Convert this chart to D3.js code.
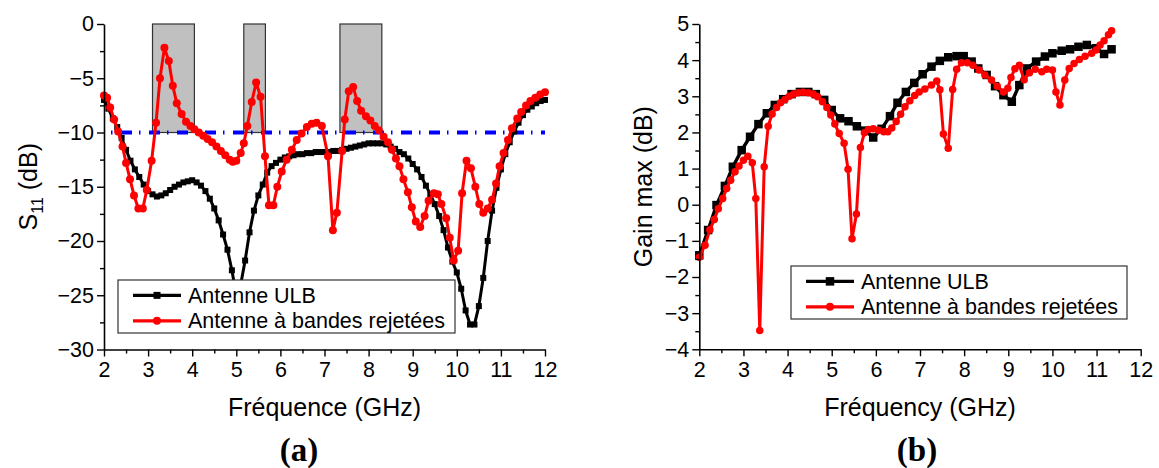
<!DOCTYPE html>
<html>
<head>
<meta charset="utf-8">
<script src="https://cdn.jsdelivr.net/npm/d3@7"></script>
<style>
  html, body { margin: 0; padding: 0; background: #fff; }
  svg { display: block; }
  text { font-family: "Liberation Sans", Arial, sans-serif; fill: #000; }
</style>
</head>
<body>
<svg id="fig" width="1159" height="468"></svg>
<script>
// ---- (a) S11 : reference antenna sampled every 0.1 GHz from 2 to 12 GHz ----
const s11FreqUlb = d3.range(0, 101).map(i => +(2 + i * 0.1).toFixed(1));
const s11Ulb = [
  -7.0, -7.8, -8.7, -9.5, -10.5, -11.6, -12.6, -13.4, -14.1, -14.8,
  -15.4, -15.7, -15.9, -15.8, -15.6, -15.3, -15.0, -14.8, -14.6, -14.5,
  -14.4, -14.6, -14.9, -15.4, -16.1, -17.0, -18.1, -19.4, -20.8, -22.7,
  -25.0, -24.0, -21.8, -19.2, -17.2, -15.8, -14.8, -13.7, -13.1, -12.8,
  -12.5, -12.3, -12.2, -12.1, -12.0, -12.0, -11.9, -11.9, -11.8, -11.8,
  -11.8, -11.8, -11.7, -11.7, -11.6, -11.5, -11.4, -11.3, -11.2, -11.1,
  -11.0, -11.0, -11.0, -11.0, -11.1, -11.3, -11.5, -11.8, -12.0, -12.4,
  -12.9, -13.4, -14.1, -14.9, -15.7, -16.6, -17.7, -19.0, -20.6, -21.9,
  -22.9, -24.4, -26.4, -27.7, -27.7, -26.0, -23.4, -20.0, -17.2, -15.1,
  -13.4, -12.0, -10.9, -9.9, -9.1, -8.4, -7.9, -7.6, -7.3, -7.1, -7.0
];

// ---- (a) S11 : band-notched antenna ----
const s11FreqNotch = [
  2.00, 2.07, 2.14, 2.23, 2.32, 2.42, 2.50, 2.59, 2.68, 2.78, 2.88, 2.97,
  3.08, 3.18, 3.27, 3.37, 3.47, 3.56, 3.65, 3.76, 3.86, 3.96, 4.05, 4.15,
  4.25, 4.35, 4.45, 4.55, 4.65, 4.75, 4.85, 4.92, 5.00, 5.10, 5.17, 5.25,
  5.35, 5.45, 5.55, 5.65, 5.74, 5.84, 5.93, 6.03, 6.14, 6.26, 6.37, 6.48,
  6.60, 6.71, 6.82, 6.94, 7.08, 7.19, 7.28, 7.40, 7.46, 7.55, 7.65, 7.74,
  7.83, 7.94, 8.04, 8.14, 8.23, 8.34, 8.44, 8.53, 8.62, 8.70, 8.79, 8.89,
  8.98, 9.07, 9.17, 9.27, 9.36, 9.48, 9.57, 9.65, 9.76, 9.84, 9.93, 10.03,
  10.12, 10.22, 10.32, 10.42, 10.51, 10.60, 10.70, 10.80, 10.89, 10.97, 11.06, 11.16,
  11.25, 11.37, 11.46, 11.57, 11.67, 11.78, 11.89, 12.00
];
const s11Notch = [
  -6.6, -6.8, -7.7, -8.8, -9.9, -11.3, -12.8, -14.3, -15.8, -17.0, -17.0, -15.3,
  -12.6, -9.1, -5.0, -2.2, -3.4, -5.7, -7.3, -8.3, -9.0, -9.4, -9.7, -10.0,
  -10.3, -10.6, -10.9, -11.3, -11.7, -12.1, -12.5, -12.7, -12.6, -11.9, -11.0, -9.4,
  -7.2, -5.4, -6.7, -12.2, -16.7, -16.7, -15.0, -13.6, -12.5, -11.6, -10.7, -10.1,
  -9.5, -9.2, -9.1, -9.4, -12.2, -19.0, -17.4, -11.7, -8.8, -6.2, -5.8, -7.1,
  -8.0, -8.5, -8.9, -9.4, -9.8, -10.4, -10.9, -11.6, -12.4, -13.1, -14.3, -15.5,
  -16.9, -18.2, -18.7, -17.7, -16.3, -15.6, -15.7, -16.6, -17.9, -19.7, -21.8, -20.9,
  -15.6, -12.6, -13.3, -15.0, -16.6, -17.4, -17.0, -16.2, -14.7, -13.1, -11.9, -10.7,
  -9.6, -8.7, -8.1, -7.5, -7.1, -6.8, -6.5, -6.3
];

// rejected bands (GHz) shaded between 0 and -10 dB
const rejectBandStart = [3.10, 5.17, 7.35];
const rejectBandEnd   = [4.05, 5.66, 8.30];
const s11Threshold = -10;

// ---- (b) maximum gain ----
const gainFreqUlb = [
  2.00, 2.20, 2.39, 2.58, 2.76, 2.96, 3.15, 3.34, 3.53, 3.71, 3.90, 4.09,
  4.28, 4.47, 4.64, 4.83, 5.00, 5.19, 5.38, 5.57, 5.76, 5.94, 6.13, 6.32,
  6.49, 6.68, 6.87, 7.06, 7.26, 7.45, 7.64, 7.83, 7.99, 8.17, 8.32, 8.51,
  8.70, 8.89, 9.08, 9.25, 9.42, 9.63, 9.83, 10.00, 10.21, 10.40, 10.59, 10.78,
  10.99, 11.17, 11.34
];
const gainUlb = [
  -1.40, -0.70, -0.01, 0.52, 1.05, 1.51, 1.88, 2.23, 2.53, 2.76, 2.92, 3.06,
  3.12, 3.12, 3.06, 2.90, 2.62, 2.39, 2.31, 2.17, 2.05, 1.86, 2.10, 2.45,
  2.82, 3.12, 3.37, 3.61, 3.82, 3.98, 4.08, 4.11, 4.11, 3.96, 3.77, 3.59,
  3.28, 3.03, 2.85, 3.31, 3.77, 3.96, 4.10, 4.19, 4.26, 4.30, 4.37, 4.42,
  4.33, 4.17, 4.30
];
const gainFreqNotch = [
  2.00, 2.13, 2.24, 2.34, 2.43, 2.53, 2.62, 2.71, 2.81, 2.90, 3.00, 3.10,
  3.20, 3.28, 3.37, 3.47, 3.56, 3.65, 3.75, 3.84, 3.94, 4.04, 4.14, 4.24,
  4.35, 4.47, 4.58, 4.68, 4.79, 4.89, 4.98, 5.07, 5.17, 5.28, 5.37, 5.46,
  5.56, 5.65, 5.74, 5.83, 5.94, 6.06, 6.18, 6.27, 6.36, 6.46, 6.56, 6.66,
  6.77, 6.88, 6.98, 7.11, 7.26, 7.38, 7.45, 7.53, 7.64, 7.74, 7.83, 7.94,
  8.07, 8.20, 8.34, 8.47, 8.62, 8.75, 8.89, 8.99, 9.06, 9.15, 9.25, 9.36,
  9.48, 9.61, 9.76, 9.87, 10.00, 10.08, 10.17, 10.28, 10.38, 10.49, 10.61, 10.74,
  10.89, 10.99, 11.08, 11.17, 11.27, 11.34
];
const gainNotch = [
  -1.45, -1.12, -0.69, -0.41, -0.11, 0.17, 0.45, 0.68, 0.91, 1.07, 1.23, 1.34,
  1.16, 0.17, -3.48, 1.05, 2.17, 2.51, 2.69, 2.82, 2.91, 3.00, 3.06, 3.10,
  3.11, 3.10, 3.06, 2.99, 2.85, 2.69, 2.48, 2.23, 1.97, 1.70, 0.98, -0.94,
  -0.26, 1.58, 1.99, 2.08, 2.10, 2.06, 2.02, 2.02, 2.12, 2.30, 2.50, 2.71,
  2.88, 3.02, 3.12, 3.20, 3.31, 3.42, 3.18, 1.96, 1.56, 3.19, 3.75, 3.93,
  3.93, 3.86, 3.73, 3.59, 3.45, 3.28, 3.12, 3.22, 3.52, 3.76, 3.86, 3.46,
  3.65, 3.75, 3.68, 3.75, 3.73, 3.12, 2.76, 3.45, 3.77, 3.91, 4.02, 4.11,
  4.19, 4.28, 4.42, 4.54, 4.70, 4.81
];

const legendLabels = ["Antenne ULB", "Antenne à bandes rejetées"];
const xTicks = [2, 3, 4, 5, 6, 7, 8, 9, 10, 11, 12];
const s11Ticks = [0, -5, -10, -15, -20, -25, -30];
const gainTicks = [5, 4, 3, 2, 1, 0, -1, -2, -3, -4];

const svg = d3.select("#fig");
const ulbColor = "#000000";
const notchColor = "#ff0000";

function drawAxes(g, x, y, yTicks, yMinor, xTitle, yTitleFn) {
  const xMinor = d3.range(2.5, 12, 1);
  const yBase = y.range()[0];
  const xBase = x.range()[0];

  const gx = g.append("g").attr("transform", `translate(0,${yBase})`);
  gx.call(d3.axisBottom(x).tickValues(xTicks).tickFormat(d3.format("d"))
      .tickSize(7).tickSizeOuter(0).tickPadding(5));
  gx.append("g").call(d3.axisBottom(x).tickValues(xMinor).tickFormat("")
      .tickSize(4).tickSizeOuter(0)).select(".domain").remove();

  const gy = g.append("g").attr("transform", `translate(${xBase},0)`);
  gy.call(d3.axisLeft(y).tickValues(yTicks).tickFormat(d3.format("d"))
      .tickSize(7).tickSizeOuter(0).tickPadding(3));
  gy.append("g").call(d3.axisLeft(y).tickValues(yMinor).tickFormat("")
      .tickSize(4).tickSizeOuter(0)).select(".domain").remove();

  g.selectAll(".domain").attr("stroke", "#000").attr("stroke-width", 1.6);
  g.selectAll(".tick line").attr("stroke", "#000").attr("stroke-width", 1.4);
  g.selectAll(".tick text")
    .style("font-family", '"Liberation Sans", Arial, sans-serif')
    .style("font-size", "21.5px").attr("fill", "#000");

  g.append("text")
    .attr("x", (x.range()[0] + x.range()[1]) / 2)
    .attr("y", 416)
    .attr("text-anchor", "middle")
    .style("font-size", "25px")
    .text(xTitle);
  yTitleFn(g);
}

function drawSeries(g, x, y, xs, ys, color, marker, size, lw) {
  const pts = xs.map((f, i) => [f, ys[i]]);
  g.append("path")
    .datum(pts)
    .attr("fill", "none")
    .attr("stroke", color)
    .attr("stroke-width", lw)
    .attr("stroke-linejoin", "round")
    .attr("d", d3.line().x(d => x(d[0])).y(d => y(d[1])));
  if (marker === "square") {
    g.append("g").selectAll("rect").data(pts).join("rect")
      .attr("x", d => x(d[0]) - size / 2)
      .attr("y", d => y(d[1]) - size / 2)
      .attr("width", size).attr("height", size)
      .attr("fill", color);
  } else {
    g.append("g").selectAll("circle").data(pts).join("circle")
      .attr("cx", d => x(d[0])).attr("cy", d => y(d[1]))
      .attr("r", size / 2).attr("fill", color);
  }
}

function drawLegend(g, x0, y0, w, h, sq, circ) {
  const lg = g.append("g").attr("transform", `translate(${x0},${y0})`);
  lg.append("rect").attr("width", w).attr("height", h)
    .attr("fill", "#fff").attr("stroke", "#333").attr("stroke-width", 1.2);
  const rows = [
    { color: ulbColor, marker: "square", y: h * 0.29 },
    { color: notchColor, marker: "circle", y: h * 0.77 }
  ];
  rows.forEach((r, i) => {
    lg.append("line").attr("x1", 15).attr("x2", 63)
      .attr("y1", r.y).attr("y2", r.y)
      .attr("stroke", r.color).attr("stroke-width", 3.2);
    if (r.marker === "square") {
      lg.append("rect").attr("x", 39 - sq / 2).attr("y", r.y - sq / 2)
        .attr("width", sq).attr("height", sq).attr("fill", r.color);
    } else {
      lg.append("circle").attr("cx", 39).attr("cy", r.y).attr("r", circ)
        .attr("fill", r.color);
    }
    lg.append("text").attr("x", 70).attr("y", r.y + 7.5)
      .style("font-size", "21.5px").text(legendLabels[i]);
  });
}

// ===================== panel (a) =====================
const xa = d3.scaleLinear().domain([2, 12]).range([104, 545]);
const ya = d3.scaleLinear().domain([-30, 0]).range([349.5, 24]);
const ga = svg.append("g");

// shaded rejected bands
ga.append("g").selectAll("rect").data(rejectBandStart).join("rect")
  .attr("x", (d) => xa(d))
  .attr("y", ya(0))
  .attr("width", (d, i) => xa(rejectBandEnd[i]) - xa(d))
  .attr("height", ya(s11Threshold) - ya(0))
  .attr("fill", "#c0c0c0")
  .attr("stroke", "#333")
  .attr("stroke-width", 1.2);

// -10 dB threshold (dash-dot)
ga.append("line")
  .attr("x1", xa(2)).attr("x2", xa(12))
  .attr("y1", ya(s11Threshold)).attr("y2", ya(s11Threshold))
  .attr("stroke", "#0000ff").attr("stroke-width", 4)
  .attr("stroke-dasharray", "11,7,1.5,8.5")
  .attr("stroke-dashoffset", -17);

drawSeries(ga, xa, ya, s11FreqUlb, s11Ulb, ulbColor, "square", 6, 3);
drawSeries(ga, xa, ya, s11FreqNotch, s11Notch, notchColor, "circle", 8, 3);

drawLegend(ga, 118, 280, 337, 53, 7, 4);

drawAxes(ga, xa, ya, s11Ticks, d3.range(-27.5, 0, 5), "Fréquence (GHz)", g => {
  const t = g.append("text")
    .attr("transform", `translate(37,${(24 + 349.5) / 2}) rotate(-90)`)
    .attr("text-anchor", "middle")
    .style("font-size", "25px");
  t.append("tspan").text("S");
  t.append("tspan").attr("dy", 6).style("font-size", "16px").text("11");
  t.append("tspan").attr("dy", -6).text(" (dB)");
});

svg.append("text")
  .attr("x", 299).attr("y", 461)
  .attr("text-anchor", "middle")
  .style("font-family", '"Liberation Serif", "Times New Roman", serif')
  .style("font-weight", "bold")
  .style("font-size", "33px")
  .text("(a)");

// ===================== panel (b) =====================
const xb = d3.scaleLinear().domain([2, 12]).range([699.3, 1140.7]);
const yb = d3.scaleLinear().domain([-4, 5]).range([349.3, 24]);
const gb = svg.append("g");

drawSeries(gb, xb, yb, gainFreqUlb, gainUlb, ulbColor, "square", 8.5, 3.4);
drawSeries(gb, xb, yb, gainFreqNotch, gainNotch, notchColor, "circle", 7.5, 3);

drawLegend(gb, 791, 266, 336, 53, 8.5, 4);

drawAxes(gb, xb, yb, gainTicks, d3.range(-3.5, 5, 1), "Fréquency (GHz)", g => {
  g.append("text")
    .attr("transform", `translate(652,${(24 + 349.3) / 2}) rotate(-90)`)
    .attr("text-anchor", "middle")
    .style("font-size", "25px")
    .text("Gain max (dB)");
});

svg.append("text")
  .attr("x", 917).attr("y", 461)
  .attr("text-anchor", "middle")
  .style("font-family", '"Liberation Serif", "Times New Roman", serif')
  .style("font-weight", "bold")
  .style("font-size", "33px")
  .text("(b)");
</script>
</body>
</html>
